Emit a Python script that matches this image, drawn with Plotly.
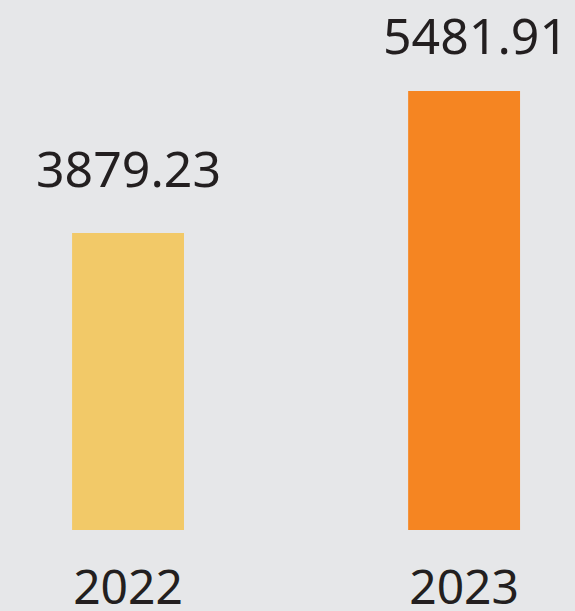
import plotly.graph_objects as go

years = ["2022", "2023"]
values = [3879.23, 5481.91]
colors = ["#f2c968", "#f58522"]
label_text = ["3879.23", "5481.91"]

FONT = "Noto Sans"
TXT = "#231f20"
BG = "#e6e7e9"

fig = go.Figure(go.Bar(
    x=years, y=values, marker=dict(color=colors, line=dict(width=0)),
    width=0.333, hoverinfo="skip",
))

label_dx = [0, 11]
label_dy = [29, 20]
for i, (v, t, dx, dy) in enumerate(zip(values, label_text, label_dx, label_dy)):
    fig.add_annotation(x=i, y=v, xref="x", yref="y", text=t, showarrow=False,
                       xanchor="center", yanchor="bottom", xshift=dx, yshift=dy,
                       font=dict(family=FONT, size=50, color=TXT))

fig.update_layout(
    width=575, height=611,
    margin=dict(l=0, r=0, t=0, b=81),
    paper_bgcolor=BG, plot_bgcolor=BG,
    showlegend=False,
    xaxis=dict(type="category", range=[-0.381, 1.330], showgrid=False,
               zeroline=False, showline=False, ticks="", ticklabelstandoff=25,
               automargin=False,
               tickfont=dict(family=FONT, size=48, color=TXT)),
    yaxis=dict(range=[527, 6509], visible=False, automargin=False),
)

fig.write_html("out.html", config={"displayModeBar": False},
               post_script="document.body.style.margin='0';document.body.style.overflow='hidden';")
